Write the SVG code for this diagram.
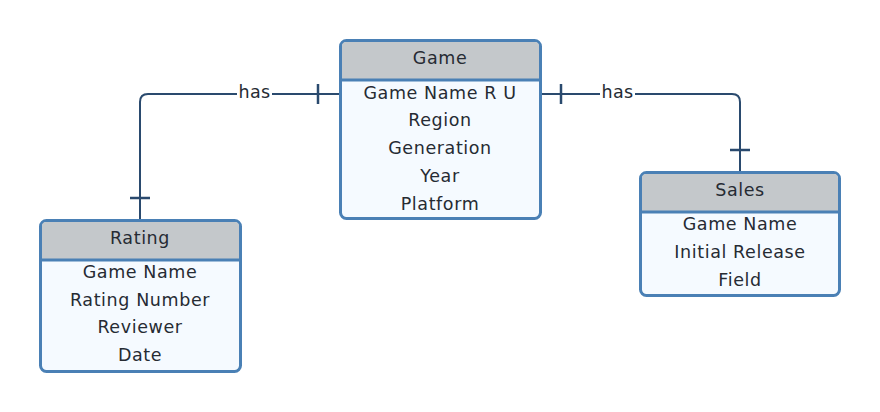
<svg xmlns="http://www.w3.org/2000/svg" width="880" height="412" viewBox="0 0 880 412">
<style>
.box{fill:#f5faff;stroke:#4a80b5;stroke-width:3}
.hdr{fill:#c4c8cb}
.div{stroke:#4a80b5;stroke-width:3}
.t{font-family:"DejaVu Sans",sans-serif;font-size:17.5px;letter-spacing:0.6px;fill:#262b33;text-anchor:middle;dominant-baseline:central}
.ln{fill:none;stroke:#2a4a6e;stroke-width:2}
.tk{stroke:#2a4a6e;stroke-width:2.5}
.lbl{font-family:"DejaVu Sans",sans-serif;font-size:17.5px;letter-spacing:0.4px;fill:#262b33;text-anchor:middle;dominant-baseline:central}
</style>
<rect width="880" height="412" fill="#ffffff"/>
<g id="connectors">
<path class="ln" d="M340,94 H148 Q140,94 140,102 V220"/>
<line class="tk" x1="318" y1="84" x2="318" y2="104"/>
<line class="tk" x1="130" y1="198" x2="150" y2="198"/>
<rect x="237" y="84" width="35" height="18" fill="#ffffff"/>
<text class="lbl" x="254.5" y="92">has</text>
<path class="ln" d="M540,94 H732 Q740,94 740,102 V172"/>
<line class="tk" x1="561" y1="84" x2="561" y2="104"/>
<line class="tk" x1="730" y1="150" x2="750" y2="150"/>
<rect x="600" y="84" width="35" height="18" fill="#ffffff"/>
<text class="lbl" x="617.5" y="92">has</text>
</g>
<g id="game">
<rect class="box" x="340.5" y="40.5" width="200" height="178" rx="6"/>
<path class="hdr" d="M342,80 V46 Q342,42 346,42 H535 Q539,42 539,46 V80 Z"/>
<line class="div" x1="340" y1="80" x2="541" y2="80"/>
<text class="t" x="440" y="58">Game</text>
<text class="t" x="440" y="93">Game Name R U</text>
<text class="t" x="440" y="120">Region</text>
<text class="t" x="440" y="148">Generation</text>
<text class="t" x="440" y="176">Year</text>
<text class="t" x="440" y="204">Platform</text>
</g>
<g id="rating">
<rect class="box" x="40.5" y="220.5" width="200" height="151" rx="6"/>
<path class="hdr" d="M42,260 V226 Q42,222 46,222 H235 Q239,222 239,226 V260 Z"/>
<line class="div" x1="40" y1="260" x2="241" y2="260"/>
<text class="t" x="140" y="238">Rating</text>
<text class="t" x="140" y="272">Game Name</text>
<text class="t" x="140" y="300">Rating Number</text>
<text class="t" x="140" y="327">Reviewer</text>
<text class="t" x="140" y="355">Date</text>
</g>
<g id="sales">
<rect class="box" x="640.5" y="172.5" width="199" height="123" rx="6"/>
<path class="hdr" d="M642,212 V178 Q642,174 646,174 H834 Q838,174 838,178 V212 Z"/>
<line class="div" x1="640" y1="212" x2="841" y2="212"/>
<text class="t" x="740" y="190">Sales</text>
<text class="t" x="740" y="224">Game Name</text>
<text class="t" x="740" y="252">Initial Release</text>
<text class="t" x="740" y="280">Field</text>
</g>
</svg>
